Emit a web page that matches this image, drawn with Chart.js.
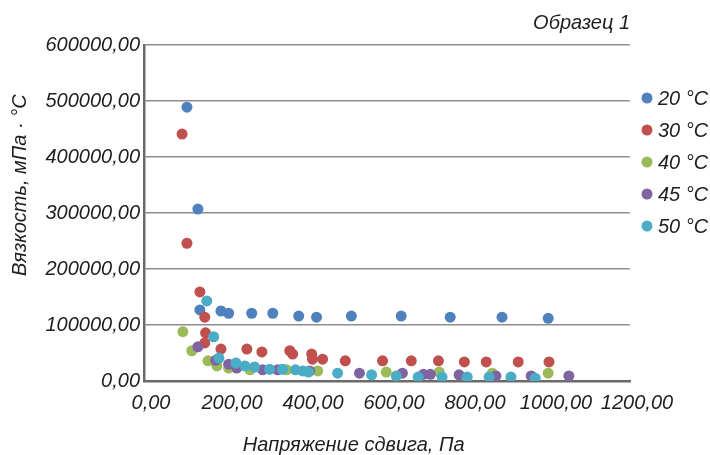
<!DOCTYPE html>
<html>
<head>
<meta charset="utf-8">
<script src="https://cdn.jsdelivr.net/npm/chart.js@4.4.1/dist/chart.umd.min.js"></script>
<style>
  body { margin: 0; background: #fff; }
</style>
</head>
<body>
<canvas id="viscChart" width="710" height="455"></canvas>
<script>
// shear stress (Pa) and viscosity values, one pair of arrays per temperature
const labels = ['20 °C', '30 °C', '40 °C', '45 °C', '50 °C'];
const colors = ['#4F81BD', '#C0504D', '#9BBB59', '#8064A2', '#4BACC6'];

const stress20 = [106, 133, 138, 190, 209, 266, 318, 382, 426, 512, 635, 756, 884, 998];
const visc20 = [489000, 307000, 127000, 125000, 121000, 121000, 121000, 116000, 114000, 116000, 116000, 114000, 114000, 112000];

const stress30 = [94, 106, 138, 150, 152, 150, 190, 254, 291, 360, 367, 414, 416, 441, 497, 589, 660, 727, 791, 845, 924, 1000];
const visc30 = [441000, 246000, 159000, 114000, 86000, 68000, 57000, 57000, 52000, 54000, 48000, 48000, 39000, 39000, 36000, 36000, 36000, 36000, 34000, 34000, 34000, 34000];

const stress40 = [96, 118, 158, 180, 209, 262, 352, 429, 598, 729, 860, 998];
const visc40 = [88000, 54000, 36000, 27000, 23000, 20000, 20000, 18000, 16000, 16000, 14000, 14000];

const stress45 = [133, 177, 209, 229, 293, 330, 409, 532, 638, 690, 707, 778, 869, 956, 1049];
const visc45 = [61000, 37000, 30000, 23000, 20000, 20000, 18000, 14000, 14000, 12000, 12000, 11000, 9000, 9000, 9000];

const stress50 = [155, 172, 185, 227, 249, 273, 310, 342, 374, 392, 406, 478, 562, 623, 677, 736, 798, 852, 906, 966];
const visc50 = [143000, 79000, 41000, 32000, 27000, 25000, 21000, 21000, 20000, 18000, 16000, 14000, 11000, 9000, 7000, 7000, 7000, 7000, 7000, 5000];

const stressSets = [stress20, stress30, stress40, stress45, stress50];
const viscSets = [visc20, visc30, visc40, visc45, visc50];

const FONT = '"Liberation Sans", Arial, sans-serif';
const TEXT = '#1e1e1e';
const fmt = v => v.toFixed(2).replace('.', ',');

const datasets = labels.map((lbl, i) => ({
  label: lbl,
  data: stressSets[i].map((x, j) => ({ x: x, y: viscSets[i][j] })),
  backgroundColor: colors[i],
  borderWidth: 0,
  pointRadius: 5.5,
  order: labels.length - i   // later series drawn on top, like the original
}));

// legend drawn by hand to the right of the plot
const sideLegend = {
  id: 'sideLegend',
  afterDraw(chart) {
    const { ctx, chartArea } = chart;
    ctx.save();
    ctx.font = 'italic 20px ' + FONT;
    ctx.textBaseline = 'middle';
    chart.data.datasets.forEach((ds, i) => {
      const x = chartArea.right + 17;
      const y = 98 + i * 32;
      ctx.fillStyle = ds.backgroundColor;
      ctx.beginPath();
      ctx.arc(x, y, 5.5, 0, Math.PI * 2);
      ctx.fill();
      ctx.fillStyle = TEXT;
      ctx.fillText(ds.label, x + 11, y + 1);
    });
    ctx.restore();
  }
};

new Chart(document.getElementById('viscChart'), {
  type: 'scatter',
  data: { datasets: datasets },
  plugins: [sideLegend],
  options: {
    responsive: false,
    animation: false,
    devicePixelRatio: 1,
    layout: { padding: { left: 0, right: 80, top: 0, bottom: 0 } },
    plugins: {
      legend: { display: false },
      tooltip: { enabled: false },
      title: {
        display: true,
        text: 'Образец 1',
        align: 'end',
        fullSize: false,
        color: TEXT,
        font: { family: FONT, size: 20, style: 'italic', weight: 'normal' },
        padding: { top: 11, bottom: 10 }
      }
    },
    scales: {
      x: {
        type: 'linear',
        min: 0, max: 1200,
        ticks: { stepSize: 200, callback: fmt, color: TEXT, padding: 10, labelOffset: 7, maxRotation: 0,
                 font: { family: FONT, size: 20, style: 'italic' } },
        grid: { display: false, drawTicks: false },
        border: { color: '#6a6a6a', width: 2.5 },
        title: {
          display: true,
          text: 'Напряжение сдвига, Па            ',
          color: TEXT,
          font: { family: FONT, size: 20, style: 'italic', lineHeight: 1 },
          padding: { top: 0, bottom: 0 }
        },
        afterFit: s => { s.height = 74; }
      },
      y: {
        min: 0, max: 600000,
        ticks: { stepSize: 100000, callback: fmt, color: TEXT, padding: 4,
                 font: { family: FONT, size: 20, style: 'italic' } },
        grid: { color: '#8e8e8e', lineWidth: 1.5, drawTicks: false },
        border: { color: '#6a6a6a', width: 2.5 },
        title: {
          display: true,
          text: '          Вязкость, мПа · °С',
          color: TEXT,
          font: { family: FONT, size: 20, style: 'italic' },
          padding: { top: 8, bottom: 0 }
        },
        afterFit: s => { s.width = 144; }
      }
    }
  }
});
</script>
</body>
</html>
